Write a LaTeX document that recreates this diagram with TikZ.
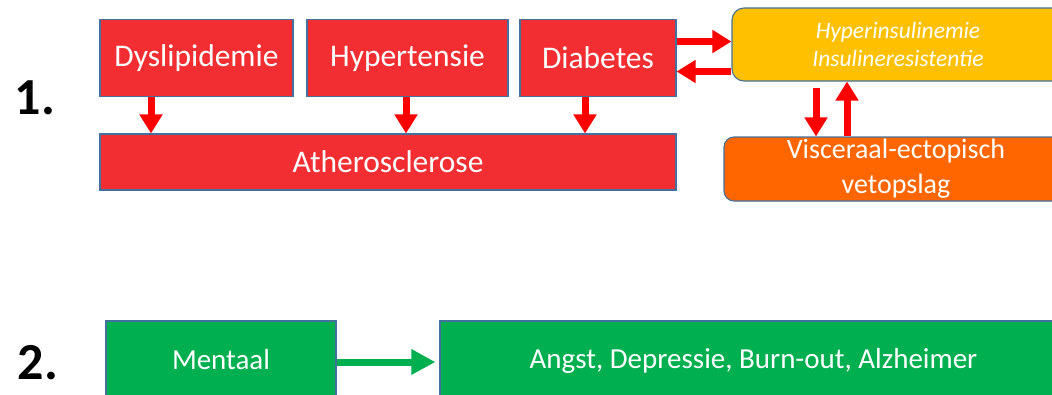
\documentclass[tikz,border=0pt]{standalone}
\usepackage{fontspec}
\setmainfont{Carlito}
\usetikzlibrary{arrows.meta}
\definecolor{boxred}{HTML}{F22E32}
\definecolor{edge}{HTML}{41719C}
\definecolor{boxyellow}{HTML}{FFC000}
\definecolor{boxorange}{HTML}{FF6600}
\definecolor{boxgreen}{HTML}{00B050}
\definecolor{arrred}{HTML}{FF0000}
\begin{document}
\begin{tikzpicture}[x=1pt,y=-1pt,
  basebox/.style={draw=edge, line width=1.1pt, text=white, inner sep=0pt, align=center},
  rbox/.style={basebox, fill=boxred, font=\fontsize{31.5}{36}\selectfont},
  gbox/.style={basebox, fill=boxgreen, font=\fontsize{29}{34}\selectfont},
  rarrow/.style={draw=arrred, line width=7pt, -{Triangle[width=22pt,length=19pt]}},
  garrow/.style={draw=boxgreen, line width=7pt, -{Triangle[width=24pt,length=24pt]}},
  numlabel/.style={font=\bfseries\fontsize{52}{52}\selectfont, inner sep=0pt}
]
\useasboundingbox (0,0) rectangle (1052,394);

% Row 1
\node[rbox, minimum width=193pt, minimum height=77pt] (dys) at (196.5,58) {Dyslipidemie};
\node[rbox, minimum width=201pt, minimum height=77pt] (hyp) at (407.5,58) {Hypertensie};
\node[rbox, minimum width=156pt, minimum height=77pt] (dia) at (598,58) {Diabetes};
\node[rbox, minimum width=576pt, minimum height=56pt] (ath) at (388,162) {Atherosclerose};

\node[basebox, fill=boxyellow, rounded corners=12pt, minimum width=332pt, minimum height=73pt,
      font=\itshape\fontsize{23.5}{28}\selectfont] (ins) at (898,44.5)
      {Hyperinsulinemie\\Insulineresistentie};
\node[basebox, fill=boxorange, rounded corners=10pt, minimum width=344pt, minimum height=64pt,
      font=\fontsize{28}{30}\selectfont] (vet) at (896,169)
      {\raisebox{5pt}{Visceraal-ectopisch}\\vetopslag};

\draw[rarrow] ([xshift=-45.5pt]dys.south) -- ([xshift=-45.5pt]dys.south |- ath.north);
\draw[rarrow] ([xshift=-1.5pt]hyp.south) -- ([xshift=-1.5pt]hyp.south |- ath.north);
\draw[rarrow] ([xshift=-13pt]dia.south) -- ([xshift=-13pt]dia.south |- ath.north);

\draw[rarrow] ([yshift=16.5pt]dia.east) -- ([yshift=16.5pt]dia.east -| ins.west);
\draw[rarrow] ([yshift=-13.5pt]dia.east -| ins.west) -- ([yshift=-13.5pt]dia.east);

\draw[rarrow] ([xshift=-82pt,yshift=-6pt]ins.south) -- ([xshift=-82pt]ins.south |- vet.north);
\draw[rarrow] ([xshift=-51pt]ins.south |- vet.north) -- ([xshift=-51pt]ins.south);

\node[numlabel] (n1) at (35,98) {1.};

% Row 2
\node[gbox, minimum width=230pt, minimum height=80pt] (men) at (221,361) {\raisebox{3pt}{Mentaal}};
\node[gbox, minimum width=627pt, minimum height=80pt] (ang) at (753.5,361) {\raisebox{3pt}{Angst, Depressie, Burn-out, Alzheimer}};
\draw[garrow] ([yshift=-1pt]men.east) -- ([xshift=-4pt,yshift=-1pt]ang.west);

\node[numlabel] (n2) at (38,363) {2.};
\end{tikzpicture}
\end{document}
